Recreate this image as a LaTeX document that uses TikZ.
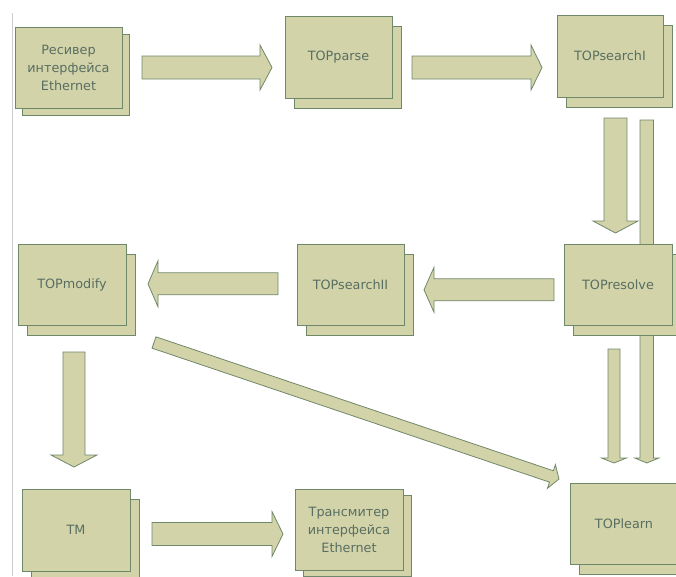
\documentclass[tikz,border=0pt]{standalone}
\usepackage{fontspec}
\setmainfont{DejaVu Sans}
\usetikzlibrary{calc,shadows}

\definecolor{boxfill}{RGB}{211,211,170}
\definecolor{boxline}{RGB}{112,136,106}
\definecolor{boxtext}{RGB}{88,110,96}
\definecolor{railgray}{RGB}{205,205,205}

\tikzset{
  module/.style={draw=boxline, fill=boxfill, line width=0.8pt,
    minimum width=107pt, minimum height=81pt, inner sep=0pt,
    text=boxtext, font=\fontsize{12.8}{18}\selectfont, align=center,
    general shadow={fill=boxfill, draw=boxline, line width=0.8pt,
      shadow xshift=9pt, shadow yshift=-10.5pt, #1}},
  module/.default={},
  barrow/.style={draw=boxline, fill=boxfill, line width=0.8pt, line join=miter},
  rail/.style={draw=railgray, line width=0.8pt}
}

% block arrow: tail, tip, shaft half-width, head half-width, head length
\newcommand\blockarrow[5]{%
  \coordinate (ba-h) at ($(#2)!#5!(#1)$);
  \draw[barrow] ($(#1)!#3!90:(#2)$) -- ($(ba-h)!#3!90:(#2)$)
    -- ($(ba-h)!#4!90:(#2)$) -- (#2) -- ($(ba-h)!#4!-90:(#2)$)
    -- ($(ba-h)!#3!-90:(#2)$) -- ($(#1)!#3!-90:(#2)$) -- cycle;
}

\begin{document}
\begin{tikzpicture}[x=1pt, y=-1pt]
\useasboundingbox (0,0) rectangle (676,576);
\clip (0,0) rectangle (676,576);

% left margin rule
\draw[rail] (12.7,13) -- (12.7,576);

% arrow end points
\coordinate (a1s) at (142,67.5);   \coordinate (a1e) at (272,67.5);
\coordinate (a2s) at (412,67.5);   \coordinate (a2e) at (542,67.5);
\coordinate (a3s) at (615.5,118);  \coordinate (a3e) at (615.5,233);
\coordinate (a4s) at (646.8,120);  \coordinate (a4e) at (646.8,463);
\coordinate (a5s) at (614,349);    \coordinate (a5e) at (614,463);
\coordinate (a6s) at (554,289.8);  \coordinate (a6e) at (424,289.8);
\coordinate (a7s) at (278,283.8);  \coordinate (a7e) at (148,283.8);
\coordinate (a8s) at (74,352);     \coordinate (a8e) at (74,467);
\coordinate (a9s) at (152,534);    \coordinate (a9e) at (283,534);
\coordinate (a10s) at (154,342.5); \coordinate (a10e) at (559,479);

% block arrows (drawn beneath the modules)
\blockarrow{a1s}{a1e}{11.5pt}{22.5pt}{12pt}
\blockarrow{a2s}{a2e}{11.5pt}{22.5pt}{11pt}
\blockarrow{a3s}{a3e}{11.5pt}{22.5pt}{12pt}
\blockarrow{a4s}{a4e}{6.75pt}{12pt}{5pt}
\blockarrow{a5s}{a5e}{6pt}{12.5pt}{5pt}
\blockarrow{a6s}{a6e}{11pt}{22.5pt}{10pt}
\blockarrow{a7s}{a7e}{11pt}{23pt}{10pt}
\blockarrow{a8s}{a8e}{11pt}{23pt}{12pt}
\blockarrow{a9s}{a9e}{11.5pt}{22.5pt}{11pt}
\blockarrow{a10s}{a10e}{6pt}{12.5pt}{8pt}

% modules
\node[module={shadow xshift=7.5pt, shadow yshift=-7pt}] (rx) at (68.5,67.5)
  {Ресивер\\интерфейса\\Ethernet};
\node[module, minimum height=82pt] (parse) at (338.5,57) {TOPparse};
\node[module, minimum width=106pt, minimum height=82pt] (search1) at (610,56) {TOPsearchI};
\node[module, minimum width=108pt] (resolve) at (618,284.5) {TOPresolve};
\node[module] (search2) at (350.5,284.5) {TOPsearchII};
\node[module, minimum width=108pt] (modify) at (72,284.5) {TOPmodify};
\node[module, minimum width=108pt, minimum height=82pt] (tm) at (76,530) {TM};
\node[module={shadow xshift=8pt, shadow yshift=-6pt}, minimum width=108pt] (tx) at (349,529.5)
  {Трансмитер\\интерфейса\\Ethernet};
\node[module, minimum width=108pt] (learn) at (624,523.5) {TOPlearn};
\end{tikzpicture}
\end{document}
